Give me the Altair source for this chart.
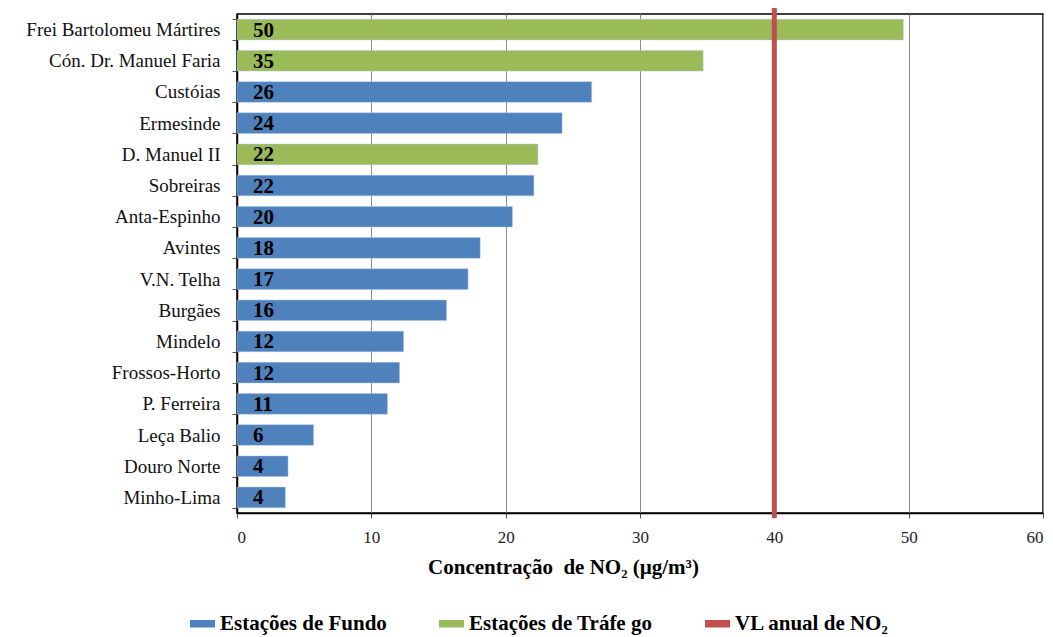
import altair as alt
import pandas as pd

stations = [
    "Frei Bartolomeu Mártires", "Cón. Dr. Manuel Faria", "Custóias", "Ermesinde",
    "D. Manuel II", "Sobreiras", "Anta-Espinho", "Avintes", "V.N. Telha", "Burgães",
    "Mindelo", "Frossos-Horto", "P. Ferreira", "Leça Balio", "Douro Norte", "Minho-Lima",
]
values = [49.6, 34.7, 26.4, 24.2, 22.4, 22.1, 20.5, 18.1, 17.2, 15.6, 12.4, 12.1, 11.2, 5.7, 3.8, 3.6]
rounded = [50, 35, 26, 24, 22, 22, 20, 18, 17, 16, 12, 12, 11, 6, 4, 4]
FUNDO = "Estações de Fundo"
TRAF = "Estações de Tráfe go"
VL = "VL anual de NO₂"
kinds = [TRAF, TRAF, FUNDO, FUNDO, TRAF, FUNDO, FUNDO, FUNDO, FUNDO, FUNDO,
         FUNDO, FUNDO, FUNDO, FUNDO, FUNDO, FUNDO]
vl_value = [40]
x_ticks = [0, 10, 20, 30, 40, 50, 60]

legend_domain = [FUNDO, TRAF, VL]
legend_colors = ["#4F81BD", "#9BBB59", "#C0504D"]

FONT = "Liberation Serif"

df = pd.DataFrame({"estacao": stations, "valor": values, "rotulo": rounded, "tipo": kinds})
df_vl = pd.DataFrame({"valor": vl_value, "tipo": [VL]})

W, H = 806, 499

x_enc = alt.X(
    "valor:Q",
    scale=alt.Scale(domain=[0, 60], nice=False),
    axis=alt.Axis(
        values=x_ticks, grid=True, gridColor="#8c8c8c", gridWidth=1,
        domainColor="black", domainWidth=1.5, tickColor="#555", tickSize=5,
        labelFont=FONT, labelFontSize=17, labelColor="#222", labelPadding=11,
        title="Concentração\u00a0 de NO₂ (µg/m³)", titleFont=FONT, titleFontSize=21,
        titleFontWeight="bold", titleColor="black", titleX=326, titleY=54,
        titleAlign="center", titleBaseline="middle",
    ),
)

y_enc = alt.Y(
    "estacao:N", sort=stations, title=None,
    scale=alt.Scale(paddingInner=0.34, paddingOuter=0.17),
    axis=alt.Axis(
        tickBand="extent", ticks=True, tickSize=5, tickColor="#555",
        labelFont=FONT, labelFontSize=19, labelColor="#111", labelPadding=12,
        labelLimit=400, domainColor="black", domainWidth=1.5, grid=False,
    ),
)

bars = alt.Chart(df).mark_bar(stroke="#a9c3e6", strokeWidth=0.8, strokeOpacity=0.6).encode(
    x=x_enc,
    y=y_enc,
    color=alt.Color(
        "tipo:N",
        scale=alt.Scale(domain=legend_domain, range=legend_colors),
        legend=alt.Legend(
            orient="none", legendX=-47, legendY=597, direction="horizontal",
            title=None, symbolType="M-1,-0.3H1V0.3H-1Z", symbolSize=625,
            symbolStrokeWidth=0, labelFont=FONT, labelFontSize=21,
            labelFontWeight="bold", labelColor="black", labelOffset=5,
            labelLimit=400, columnPadding=52,
        ),
    ),
)

text = alt.Chart(df).mark_text(
    align="left", baseline="middle", font=FONT, fontSize=21, fontWeight="bold", color="black", dy=1
).encode(
    x=alt.value(16),
    y=alt.Y("estacao:N", sort=stations),
    text="rotulo:Q",
)

rule = alt.Chart(df_vl).mark_rule(strokeWidth=5, color="#C0504D").encode(
    x=x_enc,
    y=alt.value(-6),
    y2=alt.value(H + 5),
)

chart = alt.layer(bars, text, rule).properties(
    width=W, height=H,
    autosize=alt.AutoSizeParams(type="none"),
    padding={"left": 229, "top": 6, "right": 2, "bottom": 124},
).configure_view(stroke="black", strokeWidth=1.5)

chart.save("out.html", embed_options={"renderer": "svg", "actions": False})
